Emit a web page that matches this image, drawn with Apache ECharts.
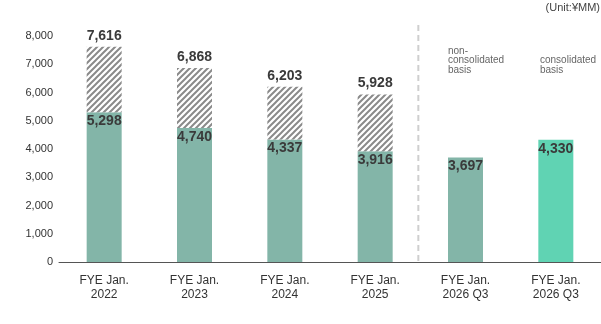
<!DOCTYPE html>
<html>
<head>
<meta charset="utf-8">
<script src="https://cdn.jsdelivr.net/npm/echarts@6/dist/echarts.min.js"></script>
<style>html,body{margin:0;padding:0;background:#fff}#c{width:601px;height:324px}</style>
</head>
<body>
<div id="c"></div>
<script>
var categories = ['FYE Jan.\n2022', 'FYE Jan.\n2023', 'FYE Jan.\n2024', 'FYE Jan.\n2025', 'FYE Jan.\n2026 Q3', 'FYE Jan.\n2026 Q3'];
var baseValues = [5298, 4740, 4337, 3916, 3697, 4330];
var totalValues = [7616, 6868, 6203, 5928, null, null];
var yTicks = [0, 1000, 2000, 3000, 4000, 5000, 6000, 7000, 8000];

var hatchValues = totalValues.map(function (t, i) { return t == null ? null : t - baseValues[i]; });

function fmt(v) { return String(v).replace(/\B(?=(\d{3})+(?!\d))/g, ','); }

var tile = document.createElement('canvas');
tile.width = 6; tile.height = 6;
var g = tile.getContext('2d');
g.fillStyle = '#fff'; g.fillRect(0, 0, 6, 6);
g.strokeStyle = '#8a8a8a'; g.lineWidth = 2;
g.beginPath();
g.moveTo(-1, 7); g.lineTo(7, -1);
g.moveTo(-1, 1); g.lineTo(1, -1);
g.moveTo(5, 7); g.lineTo(7, 5);
g.stroke();

var chart = echarts.init(document.getElementById('c'), null, { renderer: 'canvas' });
var FF = 'Liberation Sans, Arial, sans-serif';
var labelFont = { fontFamily: FF, fontSize: 14, fontWeight: 'bold', color: '#3a3a3a' };

chart.setOption({
  animation: false,
  grid: { left: 59, right: -4, top: 36, bottom: 62 },
  xAxis: {
    type: 'category',
    data: categories,
    axisTick: { show: false },
    axisLine: { lineStyle: { color: '#555', width: 1 } },
    axisLabel: { color: '#333', fontSize: 12, lineHeight: 14, margin: 12, fontFamily: FF }
  },
  yAxis: {
    type: 'value',
    min: 0, max: 8000, interval: 1000,
    splitLine: { show: false },
    axisLine: { show: false },
    axisTick: { show: false },
    axisLabel: { color: '#333', fontSize: 11, margin: 6, fontFamily: FF,
      formatter: function (v) { return yTicks.indexOf(v) >= 0 ? fmt(v) : ''; } }
  },
  series: [
    {
      type: 'bar', stack: 's', barWidth: 35,
      data: baseValues.map(function (v, i) {
        return { value: v, itemStyle: { color: i === 5 ? '#60d3b3' : '#83b5a8' } };
      }),
      label: Object.assign({ show: true, position: 'insideTop', distance: 2, formatter: function (p) { return fmt(p.value); } }, labelFont)
    },
    {
      type: 'bar', stack: 's', barWidth: 35,
      data: hatchValues,
      itemStyle: { color: { image: tile, repeat: 'repeat' } },
      label: Object.assign({ show: true, position: 'top', distance: 4, formatter: function (p) { return totalValues[p.dataIndex] == null ? '' : fmt(totalValues[p.dataIndex]); } }, labelFont)
    }
  ]
});

var x3 = chart.convertToPixel({ xAxisIndex: 0 }, 3);
var x4 = chart.convertToPixel({ xAxisIndex: 0 }, 4);
var xm = (x3 + x4) / 2 - 2;
var y0 = chart.convertToPixel({ yAxisIndex: 0 }, 0);
chart.setOption({
  graphic: [
    { type: 'line', shape: { x1: xm, y1: 25, x2: xm, y2: y0 }, style: { stroke: '#cfcfcf', lineWidth: 2, lineDash: [6, 4] }, silent: true },
    { type: 'text', left: 448, top: 46, style: { text: 'non-\nconsolidated\nbasis', fill: '#666', fontSize: 10, lineHeight: 9.5, fontFamily: FF } },
    { type: 'text', left: 540, top: 55.5, style: { text: 'consolidated\nbasis', fill: '#666', fontSize: 10, lineHeight: 9.5, fontFamily: FF } },
    { type: 'text', right: 1, top: 2, style: { text: '(Unit:¥MM)', fill: '#444', fontSize: 11, letterSpacing: 0.6, fontFamily: FF } }
  ]
});
</script>
</body>
</html>
